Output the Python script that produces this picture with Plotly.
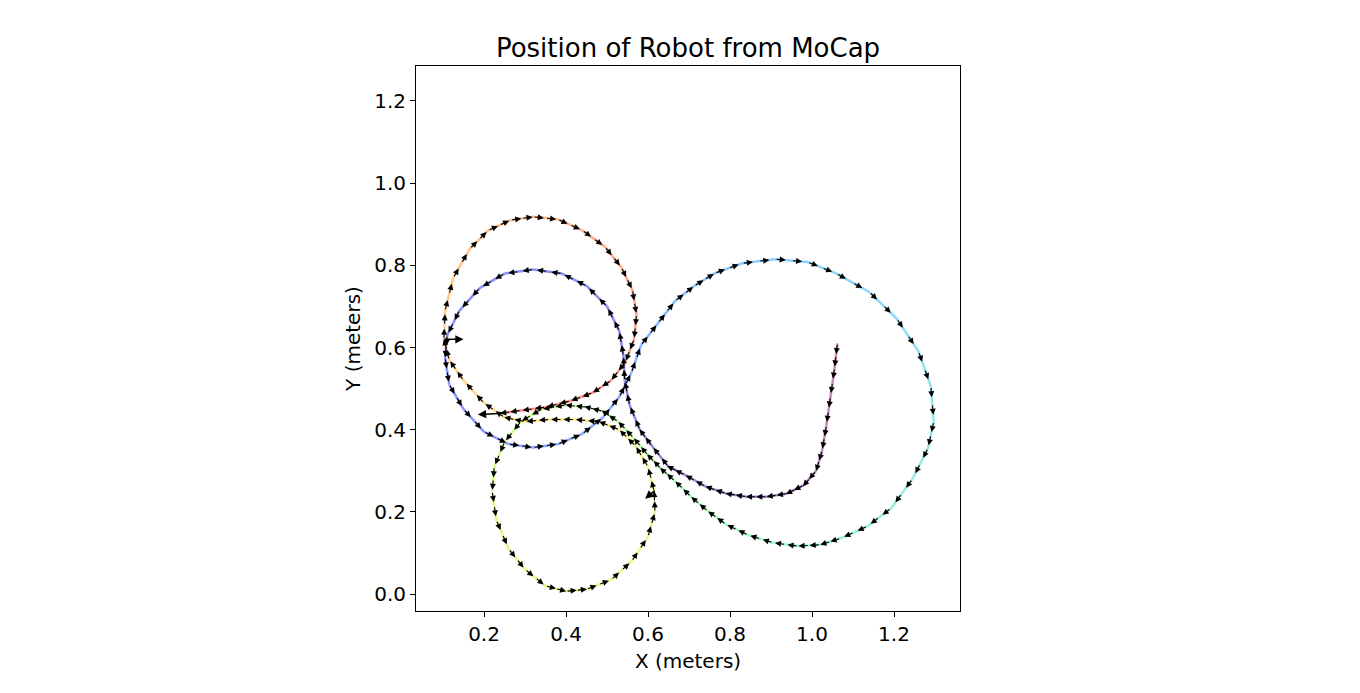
import numpy as np
import plotly.graph_objects as go
from plotly.colors import sample_colorscale

# robot path (meters), in time order
path_x = [1.062, 1.055, 1.045, 1.035, 1.025, 1.01, 0.98, 0.94, 0.89, 0.84, 0.79, 0.74, 0.69, 0.65,
          0.61, 0.58, 0.555, 0.543, 0.54, 0.53, 0.50, 0.45, 0.39, 0.32, 0.25, 0.19, 0.14, 0.11,
          0.105, 0.115, 0.15, 0.20, 0.26, 0.32, 0.38, 0.44, 0.49, 0.53, 0.56, 0.583, 0.625, 0.666,
          0.713, 0.763, 0.83, 0.91, 0.99, 1.06, 1.14, 1.207, 1.26, 1.29, 1.297, 1.283, 1.245,
          1.193, 1.135, 1.07, 1.02, 0.966, 0.905, 0.844, 0.79, 0.746, 0.705, 0.666, 0.632, 0.60,
          0.565, 0.527, 0.49, 0.45, 0.40, 0.34, 0.29, 0.25, 0.225, 0.22, 0.23, 0.26, 0.30, 0.35,
          0.40, 0.45, 0.51, 0.56, 0.60, 0.617, 0.615, 0.60, 0.57, 0.53, 0.48, 0.42, 0.36, 0.30,
          0.25, 0.20, 0.15, 0.115, 0.102, 0.105, 0.125, 0.165, 0.21, 0.265, 0.32, 0.38, 0.44,
          0.495, 0.535, 0.562, 0.572, 0.566, 0.545, 0.51, 0.465, 0.41, 0.35, 0.29, 0.24]
path_y = [0.61, 0.55, 0.48, 0.41, 0.35, 0.30, 0.265, 0.245, 0.237, 0.237, 0.245, 0.262, 0.29, 0.31,
          0.36, 0.40, 0.46, 0.52, 0.58, 0.64, 0.70, 0.75, 0.78, 0.79, 0.78, 0.745, 0.69, 0.63,
          0.575, 0.51, 0.45, 0.395, 0.365, 0.357, 0.365, 0.39, 0.43, 0.48, 0.54, 0.606, 0.66, 0.713,
          0.75, 0.781, 0.805, 0.815, 0.808, 0.78, 0.735, 0.67, 0.59, 0.505, 0.42, 0.355, 0.28,
          0.209, 0.165, 0.136, 0.12, 0.117, 0.125, 0.144, 0.17, 0.202, 0.237, 0.275, 0.305, 0.338,
          0.38, 0.42, 0.445, 0.455, 0.46, 0.45, 0.42, 0.37, 0.31, 0.25, 0.18, 0.11, 0.06, 0.02,
          0.007, 0.012, 0.035, 0.08, 0.14, 0.20, 0.25, 0.31, 0.36, 0.40, 0.42, 0.425, 0.425, 0.42,
          0.43, 0.465, 0.52, 0.57, 0.62, 0.69, 0.77, 0.84, 0.885, 0.91, 0.918, 0.912, 0.885,
          0.845, 0.795, 0.74, 0.68, 0.62, 0.565, 0.52, 0.49, 0.47, 0.455, 0.447, 0.44]

# stray orientation arrows (start x, start y, end x, end y)
odd_x0 = [0.10, 0.62, 0.24]
odd_y0 = [0.62, 0.255, 0.44]
odd_x1 = [0.15, 0.593, 0.185]
odd_y1 = [0.62, 0.232, 0.437]

x = np.array(path_x)
y = np.array(path_y)
n = len(x)
cols = sample_colorscale("Rainbow", list(np.linspace(0, 1, n - 1)))

fig = go.Figure()
for i in range(n - 1):
    fig.add_trace(go.Scatter(x=x[i:i + 2], y=y[i:i + 2], mode="lines",
                             line=dict(color=cols[i], width=2.5), opacity=0.45,
                             showlegend=False, hoverinfo="skip"))

ann = []
for i in range(n - 1):
    dx, dy = x[i + 1] - x[i], y[i + 1] - y[i]
    d = np.hypot(dx, dy)
    for f in (0.0, 0.5):
        sx, sy = x[i] + f * dx, y[i] + f * dy
        ex, ey = sx + 0.026 * dx / d, sy + 0.026 * dy / d
        ann.append(dict(x=ex, y=ey, ax=sx, ay=sy, xref="x", yref="y", axref="x", ayref="y",
                        showarrow=True, arrowhead=2, arrowsize=1.1, arrowwidth=1.1,
                        arrowcolor="black", text=""))
for a, b, c, d in zip(odd_x0, odd_y0, odd_x1, odd_y1):
    ann.append(dict(x=c, y=d, ax=a, ay=b, xref="x", yref="y", axref="x", ayref="y",
                    showarrow=True, arrowhead=2, arrowsize=1.1, arrowwidth=1.5,
                    arrowcolor="black", text=""))

axis = dict(showgrid=False, zeroline=False, showline=True, linecolor="black", mirror=True,
            ticks="outside", ticklen=5, tickcolor="black", tickfont=dict(size=20),
            tickformat=".1f", dtick=0.2, automargin=False)
fig.update_layout(
    width=1360, height=693, plot_bgcolor="white", paper_bgcolor="white",
    font=dict(family="DejaVu Sans", color="black"),
    title=dict(text="Position of Robot from MoCap", x=0.5, xanchor="center",
               yref="container", y=1 - 40 / 693, yanchor="middle",
               font=dict(size=26)),
    margin=dict(l=408, r=408, t=58, b=90),
    annotations=ann,
)
fig.update_xaxes(axis, range=[0.034, 1.361],
                 title=dict(text="X (meters)", font=dict(size=20), standoff=8))
fig.update_yaxes(axis, range=[-0.041, 1.285],
                 title=dict(text="Y (meters)", font=dict(size=20), standoff=8))
fig.write_html("out.html")
